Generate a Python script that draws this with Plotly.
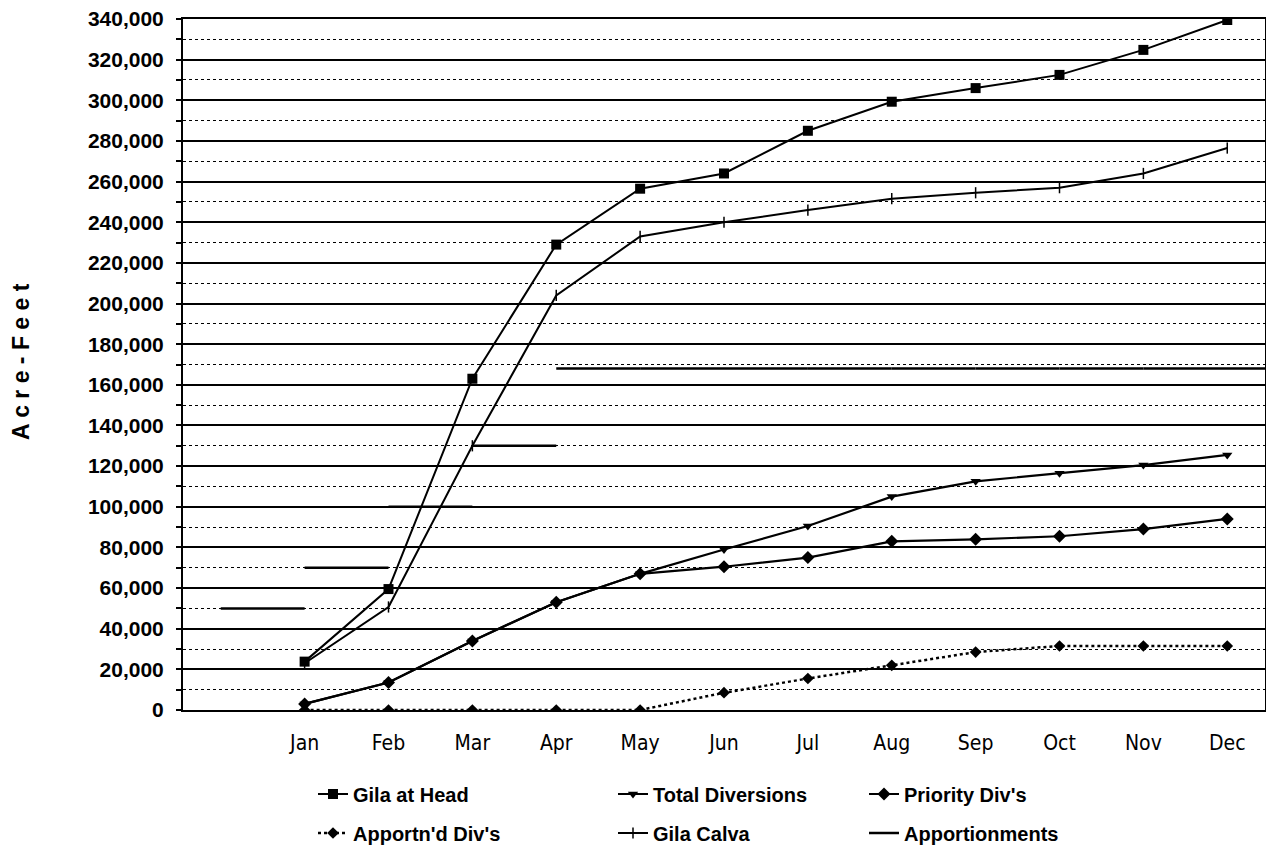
import plotly.graph_objects as go

months = ["Jan", "Feb", "Mar", "Apr", "May", "Jun", "Jul", "Aug", "Sep", "Oct", "Nov", "Dec"]
gila_at_head = [23800, 59500, 163000, 229000, 256500, 264000, 285000, 299300, 306000, 312500, 324800, 339500]
total_diversions = [3000, 13500, 34000, 53000, 67000, 79000, 90500, 105000, 112500, 116500, 120500, 125500]
priority_divs = [3000, 13500, 34000, 53000, 67000, 70500, 75000, 83000, 84000, 85500, 89000, 94000]
apportnd_divs = [0, 0, 0, 0, 0, 8500, 15500, 22000, 28500, 31500, 31500, 31500]
gila_calva = [23000, 50700, 130000, 204000, 233000, 240000, 246000, 251600, 254500, 257000, 264000, 276500]
apportionments = [50000, 70000, 100000, 130000, 168000, 168000, 168000, 168000, 168000, 168000, 168000, 168000]
y_ticks = list(range(0, 340001, 20000))

# category index: 0 = empty leading slot, 1..12 = months
x_idx = list(range(1, len(months) + 1))
x_min, x_max = -0.45, 12.45

# page body has an 8px margin; work in screen pixels and convert
OFF = 8
W, H = 1274 - OFF, 863 - OFF
PL, PR, PT, PB = 183 - OFF, 1265 - OFF, 19 - OFF, 710 - OFF


def sx(px):
    return (px - OFF - PL) / (PR - PL)


def sy(py):
    return (PB - (py - OFF)) / (PB - PT)


# Apportionment step segments: each month's value spans from the previous slot to its own slot
seg_x, seg_y = [], []
for i, v in enumerate(apportionments):
    x0 = x_idx[i] - 1
    x1 = x_idx[i] if i < len(apportionments) - 1 else x_max
    seg_x += [x0, x1, None]
    seg_y += [v, v, None]

fig = go.Figure()

fig.add_trace(go.Scatter(x=seg_x, y=seg_y, mode="lines", name="Apportionments",
                         line=dict(color="black", width=2.5), legend="legend6",
                         connectgaps=False))
fig.add_trace(go.Scatter(x=x_idx, y=apportnd_divs, mode="lines+markers", name="Apportn'd Div's",
                         line=dict(color="black", width=2.5, dash="dot"),
                         marker=dict(symbol="diamond", size=9, color="black"), legend="legend4"))
fig.add_trace(go.Scatter(x=x_idx, y=gila_calva, mode="lines+markers", name="Gila Calva",
                         line=dict(color="black", width=2),
                         marker=dict(symbol="line-ns", size=8, color="black",
                                     line=dict(color="black", width=1.5)), legend="legend5"))
fig.add_trace(go.Scatter(x=x_idx, y=priority_divs, mode="lines+markers", name="Priority Div's",
                         line=dict(color="black", width=2.2),
                         marker=dict(symbol="diamond", size=10, color="black"), legend="legend3"))
fig.add_trace(go.Scatter(x=x_idx, y=total_diversions, mode="lines+markers", name="Total Diversions",
                         line=dict(color="black", width=2.2),
                         marker=dict(symbol="triangle-down", size=9, color="black"), legend="legend2"))
fig.add_trace(go.Scatter(x=x_idx, y=gila_at_head, mode="lines+markers", name="Gila at Head",
                         line=dict(color="black", width=2),
                         marker=dict(symbol="square", size=10, color="black"), legend="legend"))

cols_px = [313, 613, 864]
rows_px = [794, 833]
legend_pos = {
    "legend": (cols_px[0], rows_px[0]),
    "legend2": (cols_px[1], rows_px[0]),
    "legend3": (cols_px[2], rows_px[0]),
    "legend4": (cols_px[0], rows_px[1]),
    "legend5": (cols_px[1], rows_px[1]),
    "legend6": (cols_px[2], rows_px[1]),
}
legend_layouts = {}
for key, (lx, ly) in legend_pos.items():
    legend_layouts[key] = dict(
        x=sx(lx), y=sy(ly), xanchor="left", yanchor="middle",
        xref="paper", yref="paper", bgcolor="rgba(0,0,0,0)", borderwidth=0,
        font=dict(family="Liberation Sans, Arial, sans-serif", size=20, color="black", weight="bold"),
        itemwidth=30, tracegroupgap=0,
    )

fig.update_layout(
    width=W, height=H,
    margin=dict(l=PL, r=W - PR, t=PT, b=H - PB, autoexpand=False),
    paper_bgcolor="white", plot_bgcolor="white",
    showlegend=True,
    **legend_layouts,
)

fig.update_xaxes(
    range=[x_min, x_max],
    tickmode="array", tickvals=x_idx, ticktext=months,
    showgrid=False, zeroline=False,
    showline=True, linecolor="black", linewidth=2, mirror=True,
    ticks="", ticklabelstandoff=13,
    tickfont=dict(family="DejaVu Sans Condensed, Liberation Sans Narrow, DejaVu Sans, sans-serif",
                  size=21, color="black"),
)

fig.update_yaxes(
    range=[0, 340000],
    tickmode="array", tickvals=y_ticks, ticktext=[f"{v:,}" for v in y_ticks],
    showgrid=True, gridcolor="black", gridwidth=2,
    zeroline=False,
    showline=True, linecolor="black", linewidth=2, mirror=True,
    ticks="outside", ticklen=5, tickcolor="black", tickwidth=1.5,
    ticklabelstandoff=8, ticklabeloverflow="allow",
    tickfont=dict(family="Liberation Sans, Arial, sans-serif", size=21, color="black", weight="bold"),
    minor=dict(dtick=10000, tick0=0, showgrid=True, gridcolor="black", griddash="dot",
               gridwidth=1, ticks="outside", ticklen=5, tickcolor="black"),
)

fig.add_annotation(
    text="A c r e - F e e t", textangle=-90,
    x=sx(21), y=sy(362), xref="paper", yref="paper",
    xanchor="center", yanchor="middle", showarrow=False,
    font=dict(family="Liberation Sans, Arial, sans-serif", size=23, color="black", weight="bold"),
)

fig.write_html("out.html")
